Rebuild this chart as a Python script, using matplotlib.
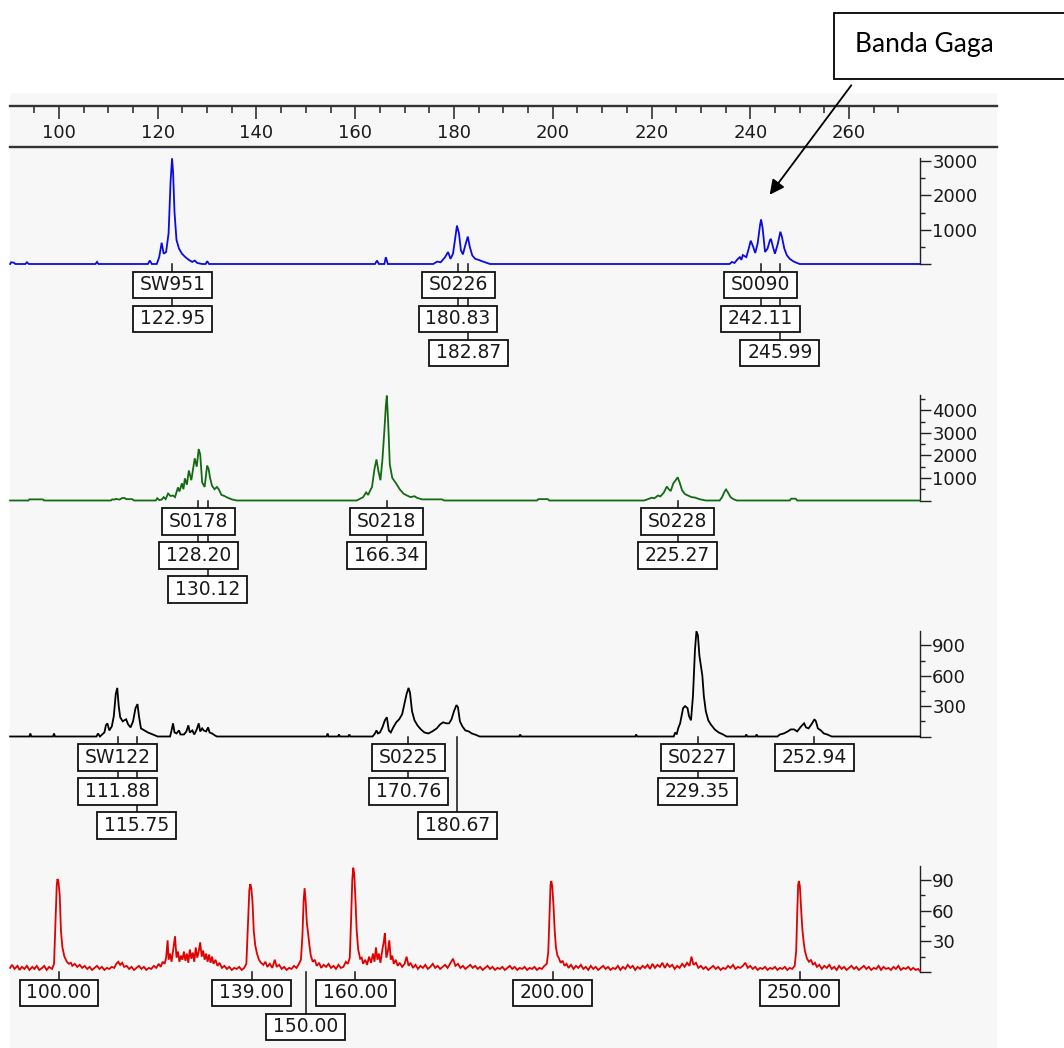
import matplotlib
matplotlib.use("Agg")
import matplotlib.pyplot as plt
from matplotlib.patches import Rectangle
from matplotlib.path import Path
from matplotlib.ticker import FixedLocator

W, H, DPI = 1064, 1048, 100

# size ruler (bp)
RULER_MAJOR = [100, 120, 140, 160, 180, 200, 220, 240, 260]
RULER_MINOR = [v for v in range(90, 275, 5) if v not in RULER_MAJOR]

# ---- traces: (size in bp, signal in RFU) ----
BLUE_TRACE = [
    (90.1, 0), (90.3, 50), (90.8, 40), (91.2, 0), (93.2, 0), (93.5, 50), (93.9, 0),
    (107.4, 0), (107.7, 60), (108.0, 0), (118.0, 0), (118.4, 100), (118.8, 0),
    (119.8, 0), (120.3, 200), (120.8, 620), (121.2, 300), (121.7, 350), (122.2, 900),
    (122.6, 2400), (122.9, 3080), (123.1, 2700), (123.4, 1500), (123.8, 700),
    (124.3, 450), (124.9, 300), (125.6, 200), (126.3, 120), (127.0, 60), (127.5, 100),
    (128.0, 30), (129.0, 0), (129.7, 0), (130.0, 80), (130.4, 0),
    (164.0, 0), (164.4, 100), (164.8, 0), (165.9, 0), (166.2, 200), (166.6, 0),
    (175.8, 0), (176.6, 70), (177.3, 50), (178.2, 200), (178.8, 350), (179.3, 150),
    (179.8, 300), (180.2, 700), (180.6, 1120), (181.0, 900), (181.4, 400), (181.8, 280),
    (182.3, 550), (182.8, 800), (183.2, 500), (183.7, 250), (184.3, 150), (185.0, 120),
    (185.7, 80), (186.5, 40), (187.3, 0),
    (235.8, 0), (236.3, 60), (236.8, 30), (237.5, 150), (237.9, 200), (238.2, 120),
    (238.5, 260), (239.2, 200), (239.7, 450), (240.1, 680), (240.6, 500), (241.0, 320),
    (241.5, 600), (242.0, 1150), (242.2, 1300), (242.5, 1050), (243.0, 350), (243.5, 450),
    (244.0, 700), (244.2, 730), (244.6, 500), (245.0, 300), (245.6, 600), (246.1, 940),
    (246.4, 800), (246.9, 450), (247.4, 260), (248.0, 150), (248.7, 80), (249.3, 40),
    (250.0, 0), (274.38, 0),
]

GREEN_TRACE = [
    (90.1, 0), (93.8, 0), (94.0, 50), (96.7, 50), (97.0, 0),
    (110.5, 0), (110.8, 50), (111.2, 40), (111.5, 70), (112.3, 40), (112.8, 110),
    (113.3, 110), (113.6, 60), (114.8, 60), (115.2, 0),
    (119.6, 0), (119.9, 100), (120.3, 20), (120.8, 40), (121.2, 150), (121.6, 60),
    (122.1, 310), (122.6, 200), (123.1, 220), (123.5, 150), (124.1, 580), (124.4, 400),
    (124.9, 760), (125.2, 500), (125.5, 980), (125.9, 700), (126.3, 1330), (126.8, 900),
    (127.5, 1870), (127.9, 1500), (128.3, 2280), (128.6, 2050), (129.0, 800), (129.5, 600),
    (130.0, 1550), (130.3, 1400), (130.6, 1000), (131.0, 650), (131.5, 500), (132.0, 600),
    (132.4, 480), (132.9, 250), (133.5, 200), (134.2, 120), (135.0, 50), (136.0, 0),
    (160.3, 0), (161.0, 80), (161.6, 150), (162.2, 360), (162.6, 250), (163.4, 600),
    (163.9, 1400), (164.3, 1820), (164.7, 1300), (165.1, 900), (165.5, 1800),
    (165.9, 3100), (166.2, 4200), (166.4, 4650), (166.7, 3300), (167.0, 1600),
    (167.5, 1000), (168.3, 750), (169.0, 500), (169.8, 300), (170.5, 220), (171.2, 150),
    (172.0, 190), (172.5, 120), (173.5, 50), (177.6, 50), (178.0, 0),
    (196.8, 0), (197.1, 60), (199.0, 60), (199.3, 0),
    (218.5, 0), (219.3, 60), (220.0, 120), (220.6, 100), (221.3, 220), (221.8, 180),
    (222.5, 350), (223.1, 620), (223.5, 500), (223.9, 420), (224.4, 750), (224.9, 900),
    (225.3, 1030), (225.7, 800), (226.2, 450), (226.8, 280), (227.4, 220), (228.1, 150),
    (228.8, 130), (229.7, 60), (231.0, 0),
    (233.8, 0), (234.3, 150), (234.8, 400), (235.1, 490), (235.5, 350), (236.0, 150),
    (236.6, 60), (237.3, 0),
    (248.0, 0), (248.3, 80), (249.2, 80), (249.5, 0), (274.38, 0),
]

BLACK_TRACE = [
    (90.1, 0), (94.0, 0), (94.2, 30), (94.4, 0), (98.8, 0), (99.0, 30), (99.2, 0),
    (107.6, 0), (107.9, 30), (108.3, 0), (109.2, 40), (109.5, 110), (109.8, 130),
    (110.2, 60), (110.7, 100), (111.1, 200), (111.5, 420), (111.8, 480), (112.1, 300),
    (112.4, 190), (112.9, 150), (113.6, 170), (114.0, 120), (114.5, 90), (115.0, 150),
    (115.5, 280), (115.9, 320), (116.2, 200), (116.6, 80), (117.3, 60), (118.0, 40),
    (119.0, 20), (120.0, 0),
    (122.5, 0), (122.8, 60), (123.1, 130), (123.4, 40), (123.8, 30), (124.3, 60),
    (124.6, 20), (125.3, 20), (125.8, 50), (126.2, 110), (126.5, 40), (127.0, 60),
    (127.4, 20), (127.9, 70), (128.3, 130), (128.6, 50), (129.0, 80), (129.3, 60),
    (129.8, 50), (130.2, 90), (130.5, 40), (131.0, 30), (131.6, 10), (132.0, 0),
    (154.2, 0), (154.4, 30), (154.6, 0), (156.5, 0), (156.7, 20), (156.9, 0),
    (158.6, 0), (158.8, 20), (159.0, 0),
    (163.5, 0), (164.0, 30), (164.3, 60), (164.6, 30), (165.0, 40), (165.5, 90),
    (166.0, 160), (166.4, 190), (166.8, 60), (167.2, 40), (167.7, 90), (168.3, 140),
    (168.9, 170), (169.5, 220), (170.0, 330), (170.4, 420), (170.8, 480), (171.1, 430),
    (171.5, 250), (172.0, 160), (172.6, 110), (173.3, 70), (174.0, 40), (174.8, 30),
    (175.6, 50), (176.5, 80), (177.2, 120), (177.8, 140), (178.4, 130), (179.0, 130),
    (179.5, 170), (180.0, 250), (180.5, 310), (180.8, 290), (181.2, 150), (181.7, 100),
    (182.3, 60), (183.0, 50), (183.6, 30), (184.5, 15), (185.2, 0),
    (193.2, 0), (193.4, 20), (193.6, 0), (216.7, 0), (216.9, 20), (217.1, 0),
    (224.5, 0), (224.8, 40), (225.1, 20), (225.4, 80), (225.8, 130), (226.4, 280),
    (226.8, 300), (227.3, 280), (227.6, 200), (228.0, 160), (228.4, 400), (228.8, 850),
    (229.1, 1040), (229.4, 1000), (229.7, 800), (230.0, 700), (230.3, 600), (230.6, 400),
    (231.0, 250), (231.5, 160), (232.0, 120), (232.8, 70), (233.6, 40), (234.5, 20),
    (235.2, 0),
    (239.0, 0), (239.2, 20), (239.4, 0), (241.1, 0), (241.3, 20), (241.5, 0),
    (245.5, 0), (246.0, 20), (246.8, 30), (247.6, 50), (248.2, 70), (248.9, 70),
    (249.5, 50), (250.3, 100), (250.9, 130), (251.3, 90), (251.8, 80), (252.4, 120),
    (253.0, 170), (253.3, 150), (253.7, 80), (254.3, 60), (254.9, 30), (255.6, 20),
    (256.5, 0), (274.38, 0),
]

RED_TRACE = [
    (90.1, 4), (90.5, 7), (91.0, 3), (91.6, 6), (92.0, 2), (92.5, 5), (93.0, 3),
    (93.5, 6), (94.0, 2), (94.6, 5), (95.0, 3), (95.5, 6), (96.0, 2), (96.6, 4),
    (97.0, 6), (97.5, 2), (98.0, 5), (98.6, 3),
    (99.0, 8), (99.3, 50), (99.55, 85), (99.7, 91), (99.9, 88), (100.15, 75),
    (100.4, 40), (100.7, 24), (101.1, 15), (101.6, 10), (102.0, 8), (102.4, 9),
    (102.7, 6), (103.2, 8), (103.7, 5), (104.2, 7), (104.7, 4), (105.2, 6), (105.7, 3),
    (106.2, 5), (106.7, 2), (107.2, 4), (107.7, 6), (108.2, 3), (108.7, 5), (109.2, 2),
    (109.7, 4), (110.2, 3), (110.7, 5), (111.2, 4), (111.6, 8), (112.0, 10), (112.4, 7),
    (112.8, 9), (113.2, 5), (113.7, 6), (114.2, 3), (114.7, 5), (115.2, 2), (115.7, 4),
    (116.2, 6), (116.7, 3), (117.2, 5), (117.7, 2), (118.2, 4), (118.7, 3), (119.2, 6),
    (119.7, 4), (120.2, 8), (120.6, 5), (121.0, 10), (121.4, 8), (121.7, 14), (122.0, 31),
    (122.2, 12), (122.5, 18), (122.8, 10), (123.2, 24), (123.5, 35), (123.8, 14),
    (124.1, 20), (124.4, 10), (124.7, 16), (125.0, 12), (125.3, 20), (125.6, 11),
    (125.9, 18), (126.2, 9), (126.5, 22), (126.8, 13), (127.1, 19), (127.4, 10),
    (127.7, 24), (128.0, 14), (128.3, 20), (128.6, 29), (128.9, 15), (129.2, 21),
    (129.5, 12), (129.8, 18), (130.1, 10), (130.4, 17), (130.7, 9), (131.0, 15),
    (131.3, 8), (131.7, 12), (132.1, 6), (132.5, 9), (133.0, 4), (133.5, 6), (134.0, 3),
    (134.5, 5), (135.0, 2), (135.5, 4), (136.0, 3), (136.5, 5), (137.0, 2), (137.5, 4),
    (137.95, 8), (138.25, 45), (138.55, 80), (138.75, 86), (138.95, 82), (139.2, 68),
    (139.45, 40), (139.75, 26), (140.1, 18), (140.5, 12), (140.9, 9), (141.4, 7),
    (141.8, 10), (142.2, 5), (142.7, 8), (143.2, 4), (143.7, 12), (144.1, 5), (144.6, 7),
    (145.1, 3), (145.6, 5), (146.1, 2), (146.6, 4), (147.1, 3), (147.6, 6), (148.1, 4),
    (148.6, 8), (149.0, 12),
    (149.3, 35), (149.55, 70), (149.75, 82), (149.95, 70), (150.2, 48), (150.45, 38),
    (150.75, 25), (151.0, 16), (151.4, 10), (151.8, 12), (152.2, 6),
    (152.7, 9), (153.1, 4), (153.6, 7), (154.1, 5), (154.6, 8), (155.1, 4), (155.6, 6),
    (156.1, 3), (156.6, 7), (157.1, 4), (157.6, 5), (158.1, 10), (158.5, 8), (158.9, 14),
    (159.15, 50), (159.4, 90), (159.6, 102), (159.8, 96), (160.05, 70), (160.3, 40),
    (160.6, 22), (161.0, 13), (161.3, 14), (161.6, 8), (162.0, 12),
    (162.4, 7), (162.8, 15), (163.2, 9), (163.6, 18), (163.9, 10), (164.2, 24),
    (164.5, 12), (164.8, 18), (165.1, 9), (165.5, 22), (165.8, 30), (166.0, 38),
    (166.3, 14), (166.6, 20), (166.9, 31), (167.2, 12), (167.5, 16), (167.8, 8),
    (168.2, 12), (168.6, 6), (169.0, 9), (169.5, 5), (170.0, 8), (170.4, 15), (170.8, 6),
    (171.2, 9), (171.7, 4), (172.2, 7), (172.7, 3), (173.2, 6), (173.7, 4), (174.2, 7),
    (174.7, 3), (175.2, 5), (175.7, 8), (176.2, 4), (176.7, 6), (177.2, 3), (177.7, 5),
    (178.2, 7), (178.7, 4), (179.2, 8), (179.8, 13), (180.3, 6), (180.8, 8), (181.3, 4),
    (181.8, 6), (182.3, 3), (182.8, 5), (183.3, 7), (183.8, 4), (184.3, 6), (184.8, 3),
    (185.3, 5), (185.8, 2), (186.3, 4), (186.8, 6), (187.3, 3), (187.8, 5), (188.3, 2),
    (188.8, 4), (189.3, 3), (189.8, 5), (190.3, 2), (190.8, 4), (191.3, 6), (191.8, 3),
    (192.3, 5), (192.8, 2), (193.3, 4), (193.8, 3), (194.3, 5), (194.8, 2), (195.3, 4),
    (195.8, 3), (196.3, 5), (196.8, 2), (197.3, 4), (197.8, 3), (198.3, 6), (198.8, 8),
    (199.1, 20), (199.3, 50), (199.55, 85), (199.7, 89), (199.9, 84), (200.15, 65),
    (200.4, 40), (200.65, 24), (200.95, 16), (201.2, 14), (201.6, 9), (202.0, 11),
    (202.4, 6), (202.8, 8), (203.2, 4), (203.7, 7), (204.2, 3), (204.7, 6), (205.2, 4),
    (205.7, 7), (206.2, 3), (206.7, 5), (207.2, 2), (207.7, 6), (208.2, 3), (208.7, 5),
    (209.2, 2), (209.7, 4), (210.2, 6), (210.7, 3), (211.2, 5), (211.7, 2), (212.2, 4),
    (212.7, 3), (213.2, 6), (213.7, 2), (214.2, 5), (214.7, 3), (215.2, 7), (215.7, 4),
    (216.2, 6), (216.7, 2), (217.2, 5), (217.7, 3), (218.2, 6), (218.7, 4), (219.2, 7),
    (219.7, 3), (220.2, 8), (220.7, 4), (221.2, 7), (221.7, 5), (222.2, 9), (222.7, 4),
    (223.2, 8), (223.7, 5), (224.2, 7), (224.7, 3), (225.2, 6), (225.7, 4), (226.2, 8),
    (226.7, 5), (227.2, 9), (227.7, 6), (228.1, 15), (228.5, 7), (229.0, 9), (229.5, 4),
    (230.0, 6), (230.5, 3), (231.0, 5), (231.5, 2), (232.0, 4), (232.5, 6), (233.0, 3),
    (233.5, 5), (234.0, 2), (234.5, 4), (235.0, 3), (235.5, 6), (236.0, 4), (236.5, 7),
    (237.0, 3), (237.5, 5), (238.0, 4), (238.5, 6), (239.0, 9), (239.5, 4), (240.0, 6),
    (240.5, 3), (241.0, 5), (241.5, 2), (242.0, 4), (242.5, 3), (243.0, 5), (243.5, 2),
    (244.0, 4), (244.5, 3), (245.0, 5), (245.5, 2), (246.0, 4), (246.5, 3), (247.0, 5),
    (247.5, 2), (248.0, 4), (248.5, 3), (249.0, 6),
    (249.3, 20), (249.5, 55), (249.7, 85), (249.85, 89), (250.05, 84), (250.3, 62),
    (250.55, 42), (250.85, 28), (251.1, 20), (251.5, 13), (251.9, 10), (252.3, 12),
    (252.7, 7), (253.1, 9), (253.5, 5), (254.0, 7), (254.5, 3), (255.0, 6), (255.5, 4),
    (256.0, 7), (256.5, 3), (257.0, 5), (257.5, 2), (258.0, 6), (258.5, 3), (259.0, 5),
    (259.5, 2), (260.0, 4), (260.5, 6), (261.0, 3), (261.5, 5), (262.0, 2), (262.5, 4),
    (263.0, 6), (263.5, 3), (264.0, 5), (264.5, 2), (265.0, 4), (265.5, 3), (266.0, 6),
    (266.5, 2), (267.0, 5), (267.5, 3), (268.0, 4), (268.5, 2), (269.0, 5), (269.5, 3),
    (270.0, 6), (270.5, 2), (271.0, 4), (271.5, 3), (272.0, 5), (272.5, 2), (273.0, 4),
    (273.5, 2), (274.0, 3), (274.38, 1),
]

# ---- peak labels: (marker name or None, [allele sizes]) ----
BLUE_CALLS = [("SW951", [122.95]), ("S0226", [180.83, 182.87]), ("S0090", [242.11, 245.99])]
GREEN_CALLS = [("S0178", [128.20, 130.12]), ("S0218", [166.34]), ("S0228", [225.27])]
BLACK_CALLS = [("SW122", [111.88, 115.75]), ("S0225", [170.76, 180.67]),
               ("S0227", [229.35]), (None, [252.94])]
RED_CALLS = [(None, [100.00]), (None, [139.00]), (None, [150.00]), (None, [160.00]),
             (None, [200.00]), (None, [250.00])]

# ---- y axes (RFU) ----
BLUE_TICKS, BLUE_MINOR, BLUE_TOP = [0, 1000, 2000, 3000], [500, 1500, 2500], 3090
GREEN_TICKS, GREEN_MINOR, GREEN_TOP = [0, 1000, 2000, 3000, 4000], [500, 1500, 2500, 3500, 4500], 4700
BLACK_TICKS, BLACK_MINOR, BLACK_TOP = [0, 300, 600, 900], [150, 450, 750], 1047
RED_TICKS, RED_MINOR, RED_TOP = [0, 30, 60, 90], [15, 45, 75], 103.7

# ---- layout (image pixels, measured from the top) ----
BP_LEFT, BP_RULER_END, BP_TRACE_END = 90.08, 289.97, 274.38
X_LEFT, X_RULER_END, X_TRACE_END = 10, 997, 920
PANEL_H = 106
BASELINES = [264, 500.5, 736.5, 972]
ROW_STEP, ROW1_CENTER, BOX_HALF = 34, 21, 13
BOX_PX = 80

FONT = "DejaVu Sans"
INK = "#1a1a1a"

plt.rcParams.update({"font.family": FONT, "axes.linewidth": 1.0})

fig = plt.figure(figsize=(W / DPI, H / DPI), dpi=DPI, facecolor="white")
fig.patches.append(Rectangle((X_LEFT / W, 0), (X_RULER_END - X_LEFT) / W, (H - 93) / H,
                             transform=fig.transFigure, facecolor="#f7f7f7",
                             edgecolor="none", zorder=-5))


def fig_rect(x0, y_top, x1, y_bottom):
    return [x0 / W, (H - y_bottom) / H, (x1 - x0) / W, (y_bottom - y_top) / H]


# ruler
rax = fig.add_axes(fig_rect(X_LEFT, 106, X_RULER_END, 147))
rax.set_facecolor("none")
rax.set_xlim(BP_LEFT, BP_RULER_END)
rax.set_ylim(0, 1)
for side in ("left", "right"):
    rax.spines[side].set_visible(False)
for side in ("top", "bottom"):
    rax.spines[side].set_linewidth(1.7)
    rax.spines[side].set_color("#333333")
rax.xaxis.set_major_locator(FixedLocator(RULER_MAJOR))
rax.xaxis.set_minor_locator(FixedLocator(RULER_MINOR))
rax.tick_params(axis="x", which="both", top=True, bottom=False, labelbottom=False,
                labeltop=False, direction="in", width=1.1, color="#222222")
rax.tick_params(axis="x", which="major", length=9)
rax.tick_params(axis="x", which="minor", length=5)
rax.set_yticks([])
for v in RULER_MAJOR:
    rax.text(v, 0.34, str(v), ha="center", va="center", fontsize=13, color=INK)


def label_box(x0, y0, width, height, mutation_size):
    px, py = 0.36 * mutation_size, 0.2 * mutation_size
    x0, y0 = x0 - px, y0 - py
    x1, y1 = x0 + width + 2 * px, y0 + height + 2 * py
    return Path([(x0, y0), (x1, y0), (x1, y1), (x0, y1), (x0, y0)], closed=True)


def fmt(v):
    return f"{v:.2f}"


panels = [
    (BLUE_TRACE, "#0a0ae6", BLUE_TICKS, BLUE_MINOR, BLUE_TOP, BLUE_CALLS),
    (GREEN_TRACE, "#126b12", GREEN_TICKS, GREEN_MINOR, GREEN_TOP, GREEN_CALLS),
    (BLACK_TRACE, "#000000", BLACK_TICKS, BLACK_MINOR, BLACK_TOP, BLACK_CALLS),
    (RED_TRACE, "#e00000", RED_TICKS, RED_MINOR, RED_TOP, RED_CALLS),
]

px_per_bp = (X_TRACE_END - X_LEFT) / (BP_TRACE_END - BP_LEFT)

for (trace, color, ticks, minor, top, calls), base in zip(panels, BASELINES):
    ax = fig.add_axes(fig_rect(X_LEFT, base - PANEL_H, X_TRACE_END, base))
    ax.set_facecolor("none")
    ax.set_xlim(BP_LEFT, BP_TRACE_END)
    ax.set_ylim(0, top)
    for side in ("left", "top", "bottom"):
        ax.spines[side].set_visible(False)
    ax.spines["right"].set_bounds(0, top)
    ax.spines["right"].set_color("#222222")
    ax.set_xticks([])
    ax.yaxis.tick_right()
    ax.yaxis.set_major_locator(FixedLocator(ticks))
    ax.yaxis.set_minor_locator(FixedLocator(minor))
    ax.set_yticklabels([""] + [str(t) for t in ticks[1:]])
    ax.tick_params(axis="y", which="major", length=8, width=1.0, pad=0.8,
                   labelsize=13, labelcolor=INK, color="#222222")
    ax.tick_params(axis="y", which="minor", length=3.5, width=1.0, color="#222222")

    bp = [p[0] for p in trace]
    rfu = [p[1] for p in trace]
    ax.plot(bp, rfu, color=color, lw=1.3, clip_on=False, zorder=3,
            solid_joinstyle="miter")

    axh = ax.bbox.height
    taken = {}

    def place(x, row):
        while any(abs(x - o) * px_per_bp < BOX_PX for o in taken.get(row, [])):
            row += 1
        taken.setdefault(row, []).append(x)
        return row

    for name, sizes in calls:
        boxes = []
        if name is not None:
            taken.setdefault(1, []).append(sizes[0])
            boxes.append((name, sizes[0], 1))
            start = 2
        else:
            start = 1
        for s in sizes:
            r = place(s, start)
            boxes.append((fmt(s), s, r))
            # connector from baseline down to the top of this size box
            top_px = ROW1_CENTER + ROW_STEP * (r - 1) - BOX_HALF
            ax.plot([s, s], [0, -top_px / axh], transform=ax.get_xaxis_transform(),
                    color="#111111", lw=1.1, clip_on=False, zorder=2)
        for text, x, r in boxes:
            ax.annotate(text, xy=(x, 0), xycoords=("data", "axes fraction"),
                        xytext=(0, -(ROW1_CENTER + ROW_STEP * (r - 1))),
                        textcoords="offset pixels", ha="center", va="center",
                        fontsize=13.5, color=INK, annotation_clip=False, zorder=5,
                        bbox=dict(boxstyle=label_box, fc="white", ec="#111111", lw=1.3))

# callout
fig.patches.append(Rectangle((834 / W, (H - 79) / H), 240 / W, 66 / H,
                             transform=fig.transFigure, facecolor="white",
                             edgecolor="black", lw=1.3, zorder=10, clip_on=False))
fig.text(855 / W, (H - 52) / H, "Banda Gaga", fontsize=19, family="Lato",
         color="black", ha="left", va="baseline", zorder=11)
fig.add_artist(matplotlib.patches.FancyArrowPatch(
    (853, H - 83), (768, H - 197), transform=None, arrowstyle="-|>",
    mutation_scale=22, color="black", lw=1.3, zorder=11))

fig.savefig("out.png", dpi=DPI, facecolor="white")
